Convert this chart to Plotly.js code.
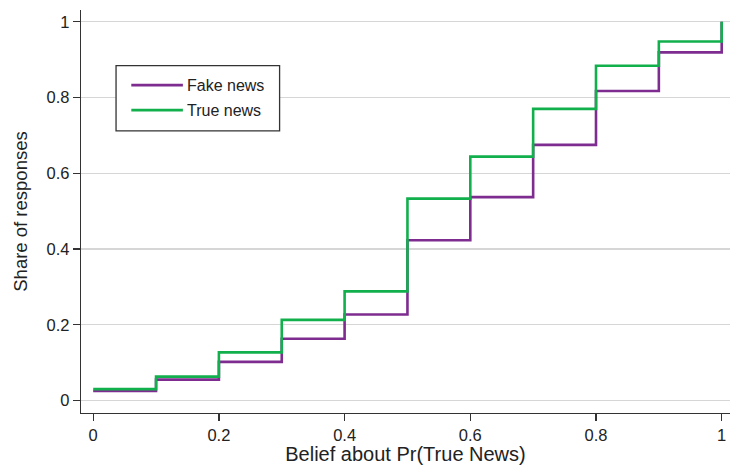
<!DOCTYPE html>
<html>
<head>
<meta charset="utf-8">
<script src="https://cdn.plot.ly/plotly-3.0.1.min.js"></script>
<style>
  html, body { margin: 0; padding: 0; background: #fff; }
  #chart { width: 730px; height: 465px; }
</style>
</head>
<body>
<div id="chart"></div>
<script>
// Cumulative share of responses by stated belief about Pr(True News)
const beliefs = [0, 0.1, 0.2, 0.3, 0.4, 0.5, 0.6, 0.7, 0.8, 0.9, 1.0];
const fakeNews = [0.025, 0.055, 0.102, 0.163, 0.227, 0.423, 0.537, 0.675, 0.817, 0.919, 1.0];
const trueNews = [0.030, 0.063, 0.127, 0.213, 0.288, 0.533, 0.644, 0.770, 0.884, 0.948, 1.0];

const seriesNames = ["Fake news", "True news"];
const seriesColors = ["#7e2c8f", "#12b04c"];

const xTicks = [0, 0.2, 0.4, 0.6, 0.8, 1];
const xTickLabels = ["0", "0.2", "0.4", "0.6", "0.8", "1"];
const yTicks = [0, 0.2, 0.4, 0.6, 0.8, 1];
const yTickLabels = ["0", "0.2", "0.4", "0.6", "0.8", "1"];

const FONT = "Liberation Sans, Arial, Helvetica, sans-serif";

const traces = [fakeNews, trueNews].map((vals, i) => ({
  type: "scatter",
  mode: "lines",
  name: seriesNames[i],
  x: beliefs,
  y: vals,
  line: { shape: "hv", color: seriesColors[i], width: 2.6 },
  showlegend: false,
  hoverinfo: "x+y+name"
}));

// Boxed legend with long line swatches
const lg = { x0: 0.054, x1: 0.306, y0: 0.700, y1: 0.862 };
const shapes = [
  { type: "rect", xref: "paper", yref: "paper",
    x0: lg.x0, x1: lg.x1, y0: lg.y0, y1: lg.y1,
    line: { color: "#333", width: 1.3 }, fillcolor: "#fff", layer: "above" }
];
const annotations = [];
const rowY = [0.8135, 0.7515];
seriesNames.forEach((name, i) => {
  shapes.push({ type: "line", xref: "paper", yref: "paper",
    x0: 0.0775, x1: 0.157, y0: rowY[i], y1: rowY[i],
    line: { color: seriesColors[i], width: 2.6 }, layer: "above" });
  annotations.push({ xref: "paper", yref: "paper", x: 0.161, y: rowY[i],
    xanchor: "left", yanchor: "middle", showarrow: false, text: name,
    font: { family: FONT, size: 16, color: "#222" } });
});

const layout = {
  width: 730,
  height: 465,
  margin: { l: 81, r: 0, t: 10, b: 52 },
  paper_bgcolor: "#fff",
  plot_bgcolor: "#fff",
  font: { family: FONT, size: 16.5, color: "#222" },
  xaxis: {
    range: [-0.0194, 1.0132],
    tickvals: xTicks,
    ticktext: xTickLabels,
    ticks: "outside",
    ticklen: 7,
    tickwidth: 1.2,
    tickcolor: "#333",
    showline: true,
    linecolor: "#333",
    linewidth: 1.3,
    showgrid: false,
    zeroline: false,
    tickfont: { family: FONT, size: 16.5, color: "#222" },
    title: { text: "Belief about Pr(True News)", font: { family: FONT, size: 20, color: "#222" }, standoff: 10 },
    automargin: false
  },
  yaxis: {
    range: [-0.033, 1.031],
    tickvals: yTicks,
    ticktext: yTickLabels,
    ticks: "outside",
    ticklen: 7,
    tickwidth: 1.2,
    tickcolor: "#333",
    showline: true,
    linecolor: "#333",
    linewidth: 1.3,
    showgrid: true,
    gridcolor: "#d6d6d6",
    gridwidth: 1.3,
    zeroline: false,
    tickfont: { family: FONT, size: 16.5, color: "#222" },
    title: { text: "Share of responses", font: { family: FONT, size: 18.5, color: "#222" }, standoff: 14 },
    automargin: false
  },
  shapes: shapes,
  annotations: annotations,
  showlegend: false
};

Plotly.newPlot("chart", traces, layout, { displayModeBar: false, staticPlot: true });
</script>
</body>
</html>
